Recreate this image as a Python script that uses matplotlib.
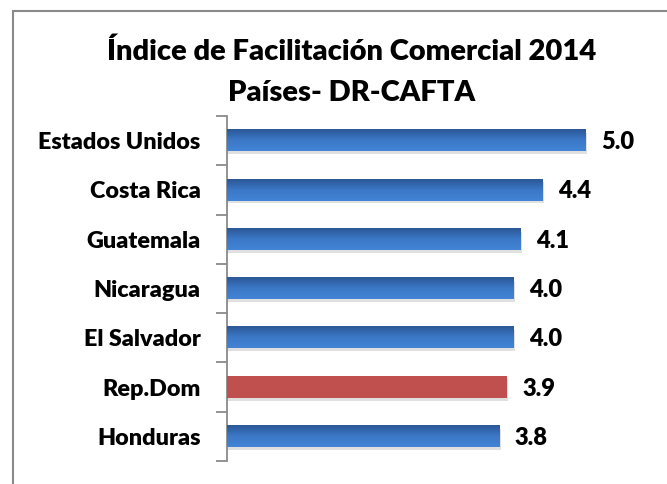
import matplotlib
matplotlib.use("Agg")
import matplotlib.pyplot as plt
import numpy as np
from matplotlib.patches import Rectangle
from matplotlib.colors import LinearSegmentedColormap

countries = ["Estados Unidos", "Costa Rica", "Guatemala", "Nicaragua", "El Salvador", "Rep.Dom", "Honduras"]
values = [5.0, 4.4, 4.1, 4.0, 4.0, 3.9, 3.8]
highlight = "Rep.Dom"
title_lines = ["Índice de Facilitación Comercial 2014", "Países- DR-CAFTA"]

plt.rcParams['font.family'] = ['Lato', 'DejaVu Sans']

W, H = 667, 484
fig = plt.figure(figsize=(W/100, H/100), dpi=100)
fig.patch.set_facecolor('white')

# outer border
fig.add_artist(Rectangle((13/W, -0.1), 1.2, 1 - 11/H + 0.1, transform=fig.transFigure,
                         fill=False, edgecolor='#8a8a8a', linewidth=1.5))

ax = fig.add_axes([227/W, 1 - 461/H, 394/W, 345/H])
n = len(countries)
y = np.arange(n)
bar_h = 0.43

blue_cmap = LinearSegmentedColormap.from_list('b', ['#2c5896', '#3b78c6', '#4384d6'])
red_cmap = LinearSegmentedColormap.from_list('r', ['#b04845', '#c0504d', '#c95a57'])

grad = np.linspace(0, 1, 50).reshape(-1, 1)
for i, (c, v) in enumerate(zip(countries, values)):
    cmap = red_cmap if c == highlight else blue_cmap
    # shadow
    ax.barh(i + 0.06, v + 0.02, height=bar_h, color='#bbbbbb', alpha=0.45, zorder=1, linewidth=0)
    bars = ax.barh(i, v, height=bar_h, color='none', zorder=2, linewidth=0)
    b = bars[0]
    x0, y0 = b.get_x(), b.get_y()
    ax.imshow(grad if c != highlight else np.full_like(grad, 0.5), cmap=cmap, aspect='auto',
              extent=(x0, x0 + b.get_width(), y0 + b.get_height(), y0), zorder=3,
              interpolation='bicubic', vmin=0, vmax=1)
    ax.text(v + 0.22, i + 0.03, f"{v:.1f}", va='center', ha='left', fontsize=17,
            fontweight='heavy', color='black')

ax.set_xlim(0, 5.5)
ax.set_ylim(n - 0.5, -0.5)
ax.set_yticks(y)
ax.set_yticklabels(countries, fontsize=16.8, fontweight='heavy')
ax.tick_params(axis='y', which='major', length=0, pad=19)
ax.set_yticks(np.arange(-0.5, n, 1), minor=True)
ax.tick_params(axis='y', which='minor', length=8, width=1.3, color='#8a8a8a', direction='out')
ax.set_xticks([])
for s in ['top', 'right', 'bottom']:
    ax.spines[s].set_visible(False)
ax.spines['left'].set_color('#8a8a8a')
ax.spines['left'].set_linewidth(1.3)

fig.text(352/W, 1 - 52/H, title_lines[0], ha='center', va='center', fontsize=21, fontweight='heavy')
fig.text(352/W, 1 - 93/H, title_lines[1], ha='center', va='center', fontsize=21, fontweight='heavy')

fig.savefig('out.png', dpi=100)
